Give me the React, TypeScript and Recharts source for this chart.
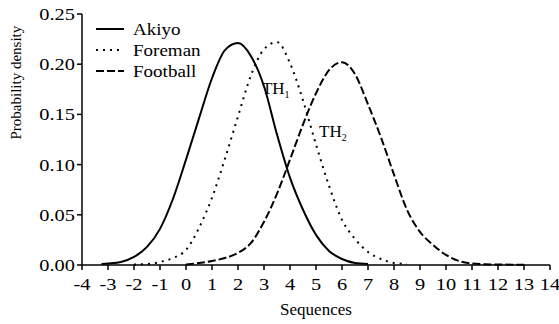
import { LineChart, Line, XAxis, YAxis, ReferenceDot } from 'recharts';

const akiyoX = [-3.25, -3, -2.5, -2, -1.5, -1, -0.5, 0, 0.5, 1, 1.5, 2, 2.5, 3, 3.5, 4, 4.5, 5, 5.5, 6, 6.5, 7];
const akiyoY = [0.001, 0.0015, 0.003, 0.008, 0.018, 0.036, 0.066, 0.105, 0.146, 0.186, 0.214, 0.221, 0.208, 0.178, 0.13, 0.087, 0.055, 0.03, 0.014, 0.006, 0.002, 0.001];

const foremanX = [-2, -1.5, -1, -0.5, 0, 0.5, 1, 1.5, 2, 2.5, 3, 3.5, 4, 4.5, 5, 5.5, 6, 6.5, 7, 7.5, 8, 8.5];
const foremanY = [0.0005, 0.001, 0.003, 0.007, 0.015, 0.037, 0.067, 0.106, 0.148, 0.189, 0.215, 0.222, 0.201, 0.164, 0.12, 0.079, 0.045, 0.026, 0.013, 0.006, 0.002, 0.001];

const footballX = [0, 0.5, 1, 1.5, 2, 2.5, 3, 3.5, 4, 4.5, 5, 5.5, 6, 6.5, 7, 7.5, 8, 8.5, 9, 9.5, 10, 10.5, 11, 11.5, 12, 13];
const footballY = [0.0005, 0.002, 0.004, 0.007, 0.012, 0.022, 0.043, 0.071, 0.105, 0.14, 0.171, 0.194, 0.202, 0.19, 0.16, 0.127, 0.09, 0.055, 0.033, 0.02, 0.01, 0.004, 0.0015, 0.0008, 0.0005, 0.0003];

const xTicks = [-4, -3, -2, -1, 0, 1, 2, 3, 4, 5, 6, 7, 8, 9, 10, 11, 12, 13, 14];
const yTicks = [0, 0.05, 0.1, 0.15, 0.2, 0.25];

const FONT = "'Liberation Serif', 'Times New Roman', serif";

const series = [
  { name: 'Akiyo', xs: akiyoX, ys: akiyoY, dash: undefined },
  { name: 'Foreman', xs: foremanX, ys: foremanY, dash: '2 5' },
  { name: 'Football', xs: footballX, ys: footballY, dash: '8 3' },
];

const toPoints = (xs: number[], ys: number[]) => xs.map((x, i) => ({ x, y: ys[i] }));

// the original's type is a bit wide, so stretch the text horizontally
function XTick(props: any) {
  const { x, y, payload } = props;
  return (
    <text transform={`translate(${x},${y + 18}) scale(1.2,1)`} textAnchor="middle" fontSize={17} fill="#000" style={{ fontFamily: FONT }}>
      {String(payload.value)}
    </text>
  );
}

function YTick(props: any) {
  const { x, y, payload } = props;
  return (
    <text transform={`translate(${x},${y}) scale(1.2,1)`} dy="0.35em" textAnchor="end" fontSize={17} fill="#000" style={{ fontFamily: FONT }}>
      {Number(payload.value).toFixed(2)}
    </text>
  );
}

// legend sits inside the plot, drawn on top of the chart
function LegendBox() {
  return (
    <svg width={140} height={66} style={{ position: 'absolute', left: 96, top: 18 }}>
      {series.map((s, i) => (
        <g key={s.name}>
          <line x1={0} x2={28} y1={11 + i * 21} y2={11 + i * 21} stroke="#000" strokeWidth={2} strokeDasharray={s.dash} />
          <text transform={`translate(37,${11 + i * 21}) scale(1.12,1)`} dy="0.35em" fontSize={17} style={{ fontFamily: FONT }} fill="#000">
            {s.name}
          </text>
        </g>
      ))}
    </svg>
  );
}

const thLabel = (main: string, sub: string) => (props: any) => (
  <text x={props.cx} y={props.cy} fontSize={17} style={{ fontFamily: FONT }} fill="#000">
    {main}
    <tspan fontSize={10} dy={4}>{sub}</tspan>
  </text>
);

export default function App() {
  return (
    <div style={{ position: 'absolute', left: 0, top: 0, background: '#fff', fontFamily: FONT }}>
      <LineChart width={559} height={324} margin={{ top: 14, right: 9, left: 0, bottom: 9 }}>
        <XAxis
          dataKey="x"
          type="number"
          domain={[-4, 14]}
          ticks={xTicks}
          interval={0}
          allowDataOverflow
          tick={<XTick />}
          tickSize={5}
          height={50}
          axisLine={{ stroke: '#000', strokeWidth: 1.5 }}
          tickLine={{ stroke: '#000', strokeWidth: 1.5 }}
          label={{ value: 'Sequences', position: 'insideBottom', offset: 0, fill: '#000', fontSize: 17, style: { fontFamily: FONT } }}
        />
        <YAxis
          type="number"
          domain={[0, 0.25]}
          ticks={yTicks}
          interval={0}
          width={82}
          tick={<YTick />}
          tickSize={5}
          axisLine={{ stroke: '#000', strokeWidth: 1.5 }}
          tickLine={{ stroke: '#000', strokeWidth: 1.5 }}
          label={{ value: 'Probability density', angle: -90, position: 'insideLeft', offset: 16, fill: '#000', fontSize: 15, style: { fontFamily: FONT } }}
        />
        {series.map((s) => (
          <Line
            key={s.name}
            name={s.name}
            data={toPoints(s.xs, s.ys)}
            dataKey="y"
            type="monotone"
            stroke="#000"
            strokeWidth={2}
            strokeDasharray={s.dash}
            dot={false}
            activeDot={false}
            isAnimationActive={false}
          />
        ))}
        <ReferenceDot x={2.92} y={0.17} r={0} shape={thLabel('TH', '1')} />
        <ReferenceDot x={5.12} y={0.127} r={0} shape={thLabel('TH', '2')} />
      </LineChart>
      <LegendBox />
    </div>
  );
}
